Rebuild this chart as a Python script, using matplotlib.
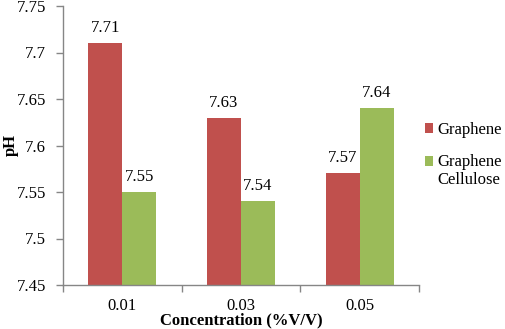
import matplotlib
matplotlib.use("Agg")
import matplotlib.pyplot as plt
import numpy as np

categories = ["0.01", "0.03", "0.05"]
graphene = [7.71, 7.63, 7.57]
graphene_cellulose = [7.55, 7.54, 7.64]
series_labels = ["Graphene", "Graphene\nCellulose"]
yticks = [7.45, 7.5, 7.55, 7.6, 7.65, 7.7, 7.75]
ytick_labels = ["7.45", "7.5", "7.55", "7.6", "7.65", "7.7", "7.75"]

plt.rcParams['font.family'] = ['Liberation Serif', 'DejaVu Serif']
FS = 12

fig = plt.figure(figsize=(5.05, 3.29), dpi=100)
ax = fig.add_axes([63/505, 1-285/329, (419-63)/505, (285-6)/329])

x = np.arange(len(categories))
w = 0.287
base = 7.45
red = "#C0504D"
green = "#9BBB59"
b1 = ax.bar(x - w/2, np.array(graphene) - base, w, bottom=base, color=red, label=series_labels[0])
b2 = ax.bar(x + w/2, np.array(graphene_cellulose) - base, w, bottom=base, color=green, label=series_labels[1])

for xi, v in zip(x - w/2, graphene):
    ax.annotate(f"{v:.2f}", (xi, v), xytext=(0, 5), textcoords="offset points",
                ha="center", va="bottom", fontsize=FS)
for xi, v in zip(x + w/2, graphene_cellulose):
    ax.annotate(f"{v:.2f}", (xi, v), xytext=(0, 5), textcoords="offset points",
                ha="center", va="bottom", fontsize=FS)

ax.set_xlim(-0.5, 2.5)
ax.set_ylim(7.45, 7.75)
ax.set_yticks(yticks)
ax.set_yticklabels(ytick_labels, fontsize=FS)
ax.set_xticks(x)
ax.set_xticklabels(categories, fontsize=FS)
ax.set_xticks([-0.5, 0.5, 1.5, 2.5], minor=True)
ax.tick_params(axis='x', which='major', length=0, pad=9)
ax.tick_params(axis='x', which='minor', length=5, color="#868686", width=1, direction='out')
ax.tick_params(axis='y', length=5, color="#868686", width=1, pad=7)

for s in ["top", "right"]:
    ax.spines[s].set_visible(False)
for s in ["left", "bottom"]:
    ax.spines[s].set_color("#868686")
    ax.spines[s].set_linewidth(1)

ax.set_ylabel("pH", fontsize=FS, fontweight="bold")
ax.yaxis.set_label_coords((19-63)/356, 0.5)
ax.set_xlabel("Concentration (%V/V)", fontsize=FS, fontweight="bold")
ax.xaxis.set_label_coords(0.5, -(312-285)/279)

leg = fig.legend(handles=[b1, b2], labels=series_labels, loc="upper left",
                 bbox_to_anchor=(418/505, 1-115/329), frameon=False,
                 prop=dict(family='Liberation Serif', size=FS),
                 handlelength=0.5, handleheight=0.5, handletextpad=0.25,
                 labelspacing=0.95, borderaxespad=0)
# align the second marker with the first line of its two-line label
h2 = leg.legend_handles[1]
h2.set_y(h2.get_y() + 0.5 * 1.15 * FS)

fig.savefig("out.png", dpi=100)
